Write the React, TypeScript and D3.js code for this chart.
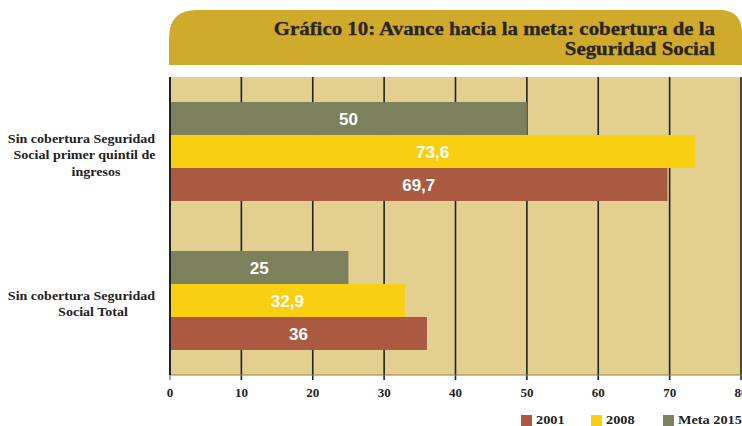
import React from "react";
import * as d3 from "d3";

const categories = ["primer quintil", "total"];
const categoryLines = [
  ["Sin cobertura Seguridad", "Social primer quintil de", "ingresos"],
  ["Sin cobertura Seguridad", "Social Total"],
];
const seriesNames = ["2001", "2008", "Meta 2015"];
const values2001 = [69.7, 36];
const values2008 = [73.6, 32.9];
const valuesMeta = [50, 25];
const xTicks = [0, 10, 20, 30, 40, 50, 60, 70, 80];
const titleLines = ["Gráfico 10: Avance hacia la meta: cobertura de la", "Seguridad Social"];

const colors: Record<string, string> = {
  "2001": "#AA5A40",
  "2008": "#F9CF12",
  "Meta 2015": "#7C805D",
};

const W = 742;
const H = 426;
const plotLeft = 170;
const plotRight = 741;
const plotTop = 77;
const plotBottom = 375;

const serif = "'Liberation Serif', 'Times New Roman', serif";
const sans = "'Liberation Sans', Arial, sans-serif";

export default function App() {
  const x = d3.scaleLinear().domain([0, 80]).range([plotLeft, plotRight]);
  const y = d3
    .scaleBand<string>()
    .domain(categories)
    .range([plotTop, plotBottom])
    .paddingInner(0.336)
    .paddingOuter(0.168);
  const barOrder = ["Meta 2015", "2008", "2001"];
  const inner = d3.scaleBand<string>().domain(barOrder).range([0, y.bandwidth()]);
  const valuesBy: Record<string, number[]> = {
    "2001": values2001,
    "2008": values2008,
    "Meta 2015": valuesMeta,
  };
  const fmt = (v: number) => String(v).replace(".", ",");

  const labelCenters = [
    [81.5, 84.5, 96],
    [81.5, 93],
  ];

  const legendX: Record<string, number> = { "2001": 521, "2008": 591, "Meta 2015": 663 };

  const r1 = 28;
  const r2 = 23;
  const bx0 = 169, bx1 = 742, by0 = 10, by1 = 65;
  const bannerPath = `M${bx0},${by1} L${bx0},${by0 + r1} Q${bx0},${by0} ${bx0 + r1},${by0} L${bx1 - r2},${by0} Q${bx1},${by0} ${bx1},${by0 + r2} L${bx1},${by1} Z`;

  return (
    <svg
      width={W}
      height={H}
      style={{ position: "absolute", left: 0, top: 0, background: "#fff" }}
    >
      <path d={bannerPath} fill="#CFAA2B" />
      {titleLines.map((t, i) => (
        <g key={i} transform={`translate(715,${35 + i * 20}) scale(1.16,1)`}>
          <text
            x={0}
            y={0}
            textAnchor="end"
            fontFamily={serif}
            fontWeight="bold"
            fontSize={18}
            fill="#2a2420"
            stroke="#2a2420"
            strokeWidth={0.3}
          >
            {t}
          </text>
        </g>
      ))}

      <rect
        x={plotLeft}
        y={plotTop}
        width={W - plotLeft}
        height={plotBottom - plotTop}
        fill="#E3CF90"
      />
      {xTicks.slice(1).map((t) => (
        <line
          key={t}
          x1={x(t)}
          x2={x(t)}
          y1={plotTop}
          y2={plotBottom + 5}
          stroke="#222"
          strokeWidth={1.6}
        />
      ))}
      <line x1={plotLeft} x2={W} y1={plotBottom} y2={plotBottom} stroke="#8c7d4e" strokeWidth={1} />

      {categories.map((c, ci) =>
        barOrder.map((s) => {
          const v = valuesBy[s][ci];
          const by = (y(c) as number) + (inner(s) as number);
          return (
            <g key={c + s}>
              <rect x={x(0)} y={by} width={x(v) - x(0)} height={inner.bandwidth()} fill={colors[s]} />
              <text
                x={(x(0) + x(v)) / 2}
                y={by + inner.bandwidth() / 2}
                dy="0.36em"
                textAnchor="middle"
                fontFamily={sans}
                fontWeight="bold"
                fontSize={17}
                fill="#fff"
              >
                {fmt(v)}
              </text>
            </g>
          );
        })
      )}

      <line x1={plotLeft} x2={plotLeft} y1={plotTop} y2={plotBottom} stroke="#222" strokeWidth={2} />
      <line x1={plotLeft} x2={plotLeft} y1={plotBottom} y2={plotBottom + 5} stroke="#888" strokeWidth={1.5} />

      {xTicks.map((t) => (
        <text
          key={t}
          x={x(t)}
          y={397}
          textAnchor="middle"
          fontFamily={serif}
          fontWeight="bold"
          fontSize={13}
          fill="#222"
        >
          {t}
        </text>
      ))}

      {categories.map((c, ci) => {
        const lines = categoryLines[ci];
        const cy = (y(c) as number) + y.bandwidth() / 2 + 3;
        const top = cy - ((lines.length - 1) * 16.5) / 2;
        return lines.map((ln, li) => (
          <g key={c + li} transform={`translate(${labelCenters[ci][li]},${top + li * 16.5}) scale(1.08,1)`}>
            <text
              x={0}
              y={0}
              dy="0.35em"
              textAnchor="middle"
              fontFamily={serif}
              fontWeight="bold"
              fontSize={13}
              fill="#222"
            >
              {ln}
            </text>
          </g>
        ));
      })}

      {seriesNames.map((s) => (
        <g key={s}>
          <rect x={legendX[s]} y={415} width={11} height={11} fill={colors[s]} />
          <g transform={`translate(${legendX[s] + 15},424) scale(1.1,1)`}>
            <text
              x={0}
              y={0}
              fontFamily={serif}
              fontWeight="bold"
              fontSize={13}
              fill="#222"
            >
              {s}
            </text>
          </g>
        </g>
      ))}
    </svg>
  );
}
